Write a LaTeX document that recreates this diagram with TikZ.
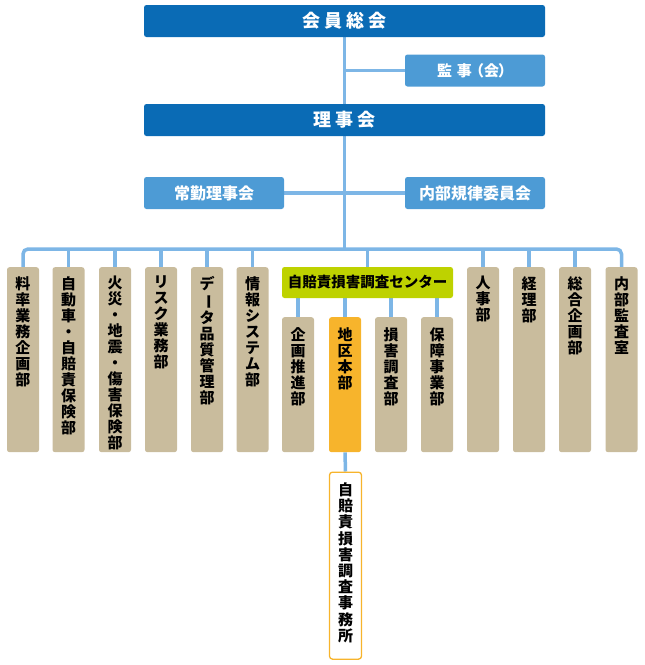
\documentclass[tikz,border=0pt]{standalone}
\usepackage{fontspec}
\setmainfont{Noto Sans CJK JP}
\usepackage{graphicx}
\usetikzlibrary{backgrounds}
\definecolor{dblue}{HTML}{0A6BB5}
\definecolor{lblue}{HTML}{4D9BD5}
\definecolor{lineblue}{HTML}{7DB6E6}
\definecolor{tanc}{HTML}{C9BC9D}
\definecolor{greenc}{HTML}{BED200}
\definecolor{orangec}{HTML}{F7B42C}
\newcommand\vbar{\rotatebox[origin=c]{-90}{ー}}
\begin{document}
\begin{tikzpicture}[x=1pt,y=-1pt,
  hdr/.style={fill=dblue, rounded corners=2.5pt, minimum width=401pt, minimum height=32pt, inner sep=0pt, text=white, font=\bfseries\fontsize{18}{20}\selectfont},
  subhdr/.style={fill=lblue, rounded corners=2.5pt, minimum width=140pt, minimum height=32pt, inner sep=0pt, text=white, font=\bfseries\fontsize{16}{18}\selectfont},
  dept/.style={fill=tanc, rounded corners=2.5pt, minimum width=32pt, minimum height=185pt, anchor=north, inner sep=0pt},
  subdept/.style={dept, minimum height=135pt},
  vt/.style={anchor=north, inner sep=0pt, align=center, font=\bfseries\fontsize{15}{16}\selectfont},
  conn/.style={draw=lineblue, line width=3.5pt}]
\useasboundingbox (0,0) rectangle (645,665);

\node[hdr] (gm) at (344.5,21) {会\hspace{4pt}員\hspace{4pt}総\hspace{4pt}会};
\node[subhdr, font=\bfseries\fontsize{15}{17}\selectfont] (kanji) at (475,70.5) {監\hspace{5pt}事\hspace{-3pt}（会\hspace{-1pt}）};
\node[hdr] (bd) at (344.5,120) {理\hspace{4pt}事\hspace{4pt}会};
\node[subhdr] (jokin) at (214,193) {常勤理事会};
\node[subhdr] (naibu) at (475,193) {内部規律委員会};

% departments
\node[dept] (d1) at (23,267) {};
\node[dept] (d2) at (68.5,267) {};
\node[dept] (d3) at (115,267) {};
\node[dept] (d4) at (161,267) {};
\node[dept] (d5) at (207,267) {};
\node[dept] (d6) at (252.5,267) {};
\node[dept] (d11) at (483,267) {};
\node[dept] (d12) at (529,267) {};
\node[dept] (d13) at (575,267) {};
\node[dept] (d14) at (621.5,267) {};

\node[vt] (t1) at ([yshift=-9pt]d1.north) {料\\率\\業\\務\\企\\画\\部};
\node[vt] (t2) at ([yshift=-9pt]d2.north) {自\\動\\車\\・\\自\\賠\\責\\保\\険\\部};
\node[vt] (t3) at ([yshift=-9pt]d3.north) {火\\災\\・\\地\\震\\・\\傷\\害\\保\\険\\部};
\node[vt] (t4) at ([yshift=-9pt]d4.north) {リ\\ス\\ク\\業\\務\\部};
\node[vt] (t5) at ([yshift=-9pt]d5.north) {デ\\\vbar\\タ\\品\\質\\管\\理\\部};
\node[vt] (t6) at ([yshift=-9pt]d6.north) {情\\報\\シ\\ス\\テ\\ム\\部};
\node[vt] (t11) at ([yshift=-9pt]d11.north) {人\\事\\部};
\node[vt] (t12) at ([yshift=-9pt]d12.north) {経\\理\\部};
\node[vt] (t13) at ([yshift=-9pt]d13.north) {総\\合\\企\\画\\部};
\node[vt] (t14) at ([yshift=-9pt]d14.north) {内\\部\\監\\査\\室};

% center
\node[fill=greenc, rounded corners=2.5pt, minimum width=171pt, minimum height=31pt, inner sep=0pt, font=\bfseries\fontsize{14.5}{16}\selectfont] (ctr) at (367.5,282.5) {自賠責損害調査センター};

\node[subdept] (s1) at (298,317) {};
\node[subdept, fill=orangec] (s2) at (345,317) {};
\node[subdept] (s3) at (391,317) {};
\node[subdept] (s4) at (437,317) {};
\node[vt] (u1) at ([yshift=-10pt]s1.north) {企\\画\\推\\進\\部};
\node[vt] (u2) at ([yshift=-10pt]s2.north) {地\\区\\本\\部};
\node[vt] (u3) at ([yshift=-10pt]s3.north) {損\\害\\調\\査\\部};
\node[vt] (u4) at ([yshift=-10pt]s4.north) {保\\障\\事\\業\\部};

\node[draw=orangec, line width=1.3pt, fill=white, rounded corners=3pt, minimum width=32pt, minimum height=187pt, anchor=north, inner sep=0pt] (jimu) at (345.5,471.5) {};
\node[vt, font=\bfseries\fontsize{15}{16.2}\selectfont] (v1) at ([yshift=-11pt]jimu.north) {自\\賠\\責\\損\\害\\調\\査\\事\\務\\所};

\coordinate (bus) at (345,249);
\begin{scope}[on background layer]
\draw[conn] (gm.south) -- (bd.north);
\draw[conn] (kanji.west) -- (kanji.west -| gm.south);
\draw[conn] (bd.south) -- (bd.south |- bus);
\draw[conn] (jokin.east) -- (naibu.west);
\draw[conn, rounded corners=5pt] (d1.north) -- (d1.north |- bus) -- (d14.north |- bus) -- (d14.north);
\foreach \n in {d2,d3,d4,d5,d6,d11,d12,d13,ctr}
  \draw[conn] (\n.north) -- (\n.north |- bus);
\foreach \n in {s1,s2,s3,s4}
  \draw[conn] (\n.north) -- (\n.north |- ctr.south);
\draw[conn] (s2.south) -- (jimu.north);
\end{scope}
\end{tikzpicture}
\end{document}
